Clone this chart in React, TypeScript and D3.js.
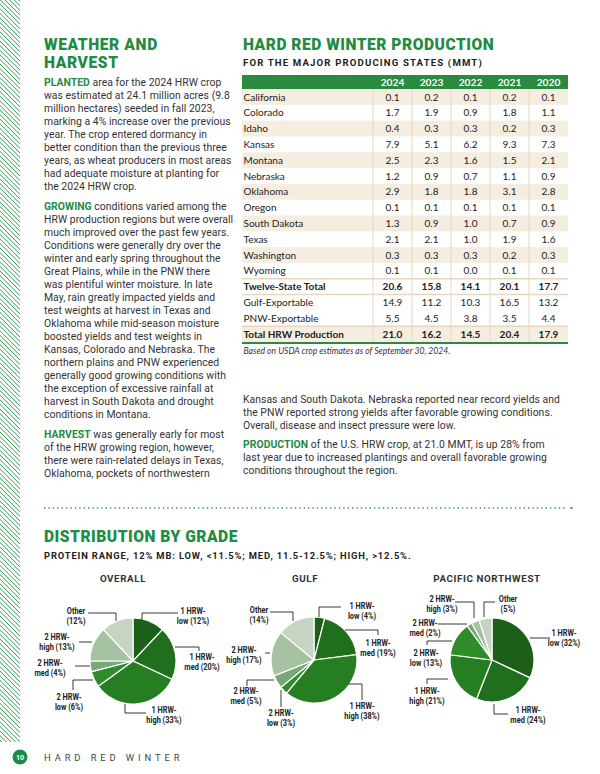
import React from "react";
import * as d3 from "d3";

// ---------- DATA ----------
const tableYears = ["2024", "2023", "2022", "2021", "2020"];
const tableRowNames = [
  "California", "Colorado", "Idaho", "Kansas", "Montana", "Nebraska", "Oklahoma", "Oregon",
  "South Dakota", "Texas", "Washington", "Wyoming", "Twelve-State Total", "Gulf-Exportable",
  "PNW-Exportable", "Total HRW Production",
];
const tableValues = [
  ["0.1", "0.2", "0.1", "0.2", "0.1"],
  ["1.7", "1.9", "0.9", "1.8", "1.1"],
  ["0.4", "0.3", "0.3", "0.2", "0.3"],
  ["7.9", "5.1", "6.2", "9.3", "7.3"],
  ["2.5", "2.3", "1.6", "1.5", "2.1"],
  ["1.2", "0.9", "0.7", "1.1", "0.9"],
  ["2.9", "1.8", "1.8", "3.1", "2.8"],
  ["0.1", "0.1", "0.1", "0.1", "0.1"],
  ["1.3", "0.9", "1.0", "0.7", "0.9"],
  ["2.1", "2.1", "1.0", "1.9", "1.6"],
  ["0.3", "0.3", "0.3", "0.2", "0.3"],
  ["0.1", "0.1", "0.0", "0.1", "0.1"],
  ["20.6", "15.8", "14.1", "20.1", "17.7"],
  ["14.9", "11.2", "10.3", "16.5", "13.2"],
  ["5.5", "4.5", "3.8", "3.5", "4.4"],
  ["21.0", "16.2", "14.5", "20.4", "17.9"],
];
const boldRows = ["Twelve-State Total", "Total HRW Production"];

const gradeLine1 = ["1 HRW-", "1 HRW-", "1 HRW-", "2 HRW-", "2 HRW-", "2 HRW-", "Other"];
const gradeLine2 = ["low", "med", "high", "low", "med", "high", ""];
const overallValues = [12, 20, 33, 6, 4, 13, 12];
const gulfValues = [4, 19, 38, 3, 5, 17, 14];
const pnwValues = [32, 24, 21, 13, 2, 3, 5];
const pieTitles = ["OVERALL", "GULF", "PACIFIC NORTHWEST"];

const leftParas = [
  { lead: "PLANTED", lines: [
    " area for the 2024 HRW crop",
    "was estimated at 24.1 million acres (9.8",
    "million hectares) seeded in fall 2023,",
    "marking a 4% increase over the previous",
    "year. The crop entered dormancy in",
    "better condition than the previous three",
    "years, as wheat producers in most areas",
    "had adequate moisture at planting for",
    "the 2024 HRW crop.",
  ] },
  { lead: "GROWING", lines: [
    " conditions varied among the",
    "HRW production regions but were overall",
    "much improved over the past few years.",
    "Conditions were generally dry over the",
    "winter and early spring throughout the",
    "Great Plains, while in the PNW there",
    "was plentiful winter moisture. In late",
    "May, rain greatly impacted yields and",
    "test weights at harvest in Texas and",
    "Oklahoma while mid-season moisture",
    "boosted yields and test weights in",
    "Kansas, Colorado and Nebraska. The",
    "northern plains and PNW experienced",
    "generally good growing conditions with",
    "the exception of excessive rainfall at",
    "harvest in South Dakota and drought",
    "conditions in Montana.",
  ] },
  { lead: "HARVEST", lines: [
    " was generally early for most",
    "of the HRW growing region, however,",
    "there were rain-related delays in Texas,",
    "Oklahoma, pockets of northwestern",
  ] },
];
const rightParas = [
  { lead: "", lines: [
    "Kansas and South Dakota. Nebraska reported near record yields and",
    "the PNW reported strong yields after favorable growing conditions.",
    "Overall, disease and insect pressure were low.",
  ] },
  { lead: "PRODUCTION", lines: [
    " of the U.S. HRW crop, at 21.0 MMT, is up 28% from",
    "last year due to increased plantings and overall favorable growing",
    "conditions throughout the region.",
  ] },
];

// ---------- LAYOUT / STYLE ----------
const GREEN = "#1f8b43";
const TEXT = "#333333";
const BEIGE = "#f6ede1";
const DIVIDER = "#e7d6c0";
const SANS = "Roboto, sans-serif";
const TABLE_FONT = "Lato, 'Open Sans', sans-serif";
const sliceColors = ["#1b5f18", "#1f6f1c", "#257e22", "#2f8c2b", "#78a875", "#a7c1a3", "#c5d5c2"];

type LL = { t: [number, number]; p: [number, number][] };
const overallLayout: LL[] = [
  { t: [60, -50], p: [[9, -41], [9, -48], [45, -48]] },
  { t: [69, -4], p: [[42, -14], [66, -14], [66, -10]] },
  { t: [31, 49], p: [[-8, 43], [-8, 52], [13, 52]] },
  { t: [-64, 36], p: [[-40, 19], [-60, 19], [-60, 29]] },
  { t: [-83, 2], p: [[-58, 5], [-43, 5]] },
  { t: [-76, -24], p: [[-54, -19], [-41, -19]] },
  { t: [-57, -50], p: [[-45, -48], [-17, -48], [-17, -40]] },
];
const gulfLayout: LL[] = [
  { t: [48, -54], p: [[5, -43], [5, -53], [27, -53]] },
  { t: [64, -17], p: [[31, -30], [64, -30], [64, -25]] },
  { t: [48, 46], p: [[34, 24], [48, 24], [48, 40]] },
  { t: [-33, 53], p: [[-33, 30], [-33, 47]] },
  { t: [-68, 31], p: [[-40, 20], [-67, 20], [-67, 26]] },
  { t: [-70, -10], p: [[-49, -7], [-44, -7]] },
  { t: [-55, -50], p: [[-44, -48], [-21, -48], [-21, -39]] },
];
const pnwLayout: LL[] = [
  { t: [72, -27], p: [[38, -22], [58, -22]] },
  { t: [36, 50], p: [[2, 44], [2, 54], [16, 54]] },
  { t: [-65, 31], p: [[-44, 19], [-65, 19], [-65, 24]] },
  { t: [-66, -7], p: [[-40, -19], [-65, -19], [-65, -15]] },
  { t: [-67, -37], p: [[-54, -36], [-25, -36]] },
  { t: [-50, -61], p: [[-37, -58], [-18, -58], [-18, -42]] },
  { t: [16, -61], p: [[3, -58], [-8, -58], [-8, -43]] },
];

const pies = [
  { title: pieTitles[0], values: overallValues, cx: 133, cy: 661, r: 43, titleX: 123, titleY: 582, layout: overallLayout },
  { title: pieTitles[1], values: gulfValues, cx: 314, cy: 660, r: 43, titleX: 305, titleY: 582, layout: gulfLayout },
  { title: pieTitles[2], values: pnwValues, cx: 492, cy: 660, r: 42, titleX: 487, titleY: 582, layout: pnwLayout },
];

function Paragraphs({ paras, x, y0, lh, gap }: { paras: typeof leftParas; x: number; y0: number; lh: number; gap: number }) {
  let y = y0;
  const out: React.ReactNode[] = [];
  paras.forEach((p, pi) => {
    p.lines.forEach((line, li) => {
      out.push(
        <text key={`${pi}-${li}`} x={x} y={y} fontFamily={SANS} fontSize={10.4} fill={TEXT} letterSpacing={0.04}>
          {li === 0 && p.lead ? <tspan fill={GREEN} fontWeight={700}>{p.lead}</tspan> : null}
          {line}
        </text>
      );
      y += lh;
    });
    y += gap;
  });
  return <g>{out}</g>;
}

function Table() {
  const x0 = 242, x1 = 568, labelEnd = 373;
  const headerTop = 75, headerBottom = 89, bottom = 342;
  const yBand = d3.scaleBand<string>().domain(tableRowNames).range([headerBottom, bottom]);
  const xBand = d3.scaleBand<string>().domain(tableYears).range([labelEnd, x1]);
  const bh = yBand.bandwidth();
  const shaded = (name: string, i: number) => (i < 12 ? i % 2 === 0 : name === "Total HRW Production");
  return (
    <g>
      <rect x={x0} y={headerTop} width={x1 - x0} height={headerBottom - headerTop} fill="#2a8a3f" />
      {tableYears.map((yr) => (
        <text key={yr} x={xBand(yr)! + xBand.bandwidth() / 2} y={(headerTop + headerBottom) / 2} dy="0.36em"
          textAnchor="middle" fontFamily={TABLE_FONT} fontWeight={700} fontSize={10.2} fill="#fff">{yr}</text>
      ))}
      {tableRowNames.map((name, i) => (
        shaded(name, i) ? <rect key={`s${i}`} x={x0} y={yBand(name)!} width={x1 - x0} height={bh} fill={BEIGE} /> : null
      ))}
      <line x1={x0} x2={x1} y1={yBand("Twelve-State Total")!} y2={yBand("Twelve-State Total")!} stroke={DIVIDER} strokeWidth={1.5} />
      <line x1={x0} x2={x1} y1={yBand("Gulf-Exportable")!} y2={yBand("Gulf-Exportable")!} stroke={DIVIDER} strokeWidth={1.5} />
      <line x1={x0} x2={x1} y1={yBand("Total HRW Production")!} y2={yBand("Total HRW Production")!} stroke={DIVIDER} strokeWidth={1.5} />
      {tableYears.map((yr) => (
        <line key={`v${yr}`} x1={xBand(yr)!} x2={xBand(yr)!} y1={headerBottom} y2={bottom} stroke={DIVIDER} strokeWidth={1} />
      ))}
      {tableRowNames.map((name, i) => {
        const bold = boldRows.includes(name);
        const cy = yBand(name)! + bh / 2;
        return (
          <g key={name}>
            <text x={x0 + 1.5} y={cy} dy="0.36em" fontFamily={TABLE_FONT} fontSize={10} fontWeight={bold ? 700 : 400} fill="#222">{name}</text>
            {tableValues[i].map((v, j) => (
              <text key={j} x={xBand(tableYears[j])! + xBand.bandwidth() / 2} y={cy} dy="0.36em" textAnchor="middle"
                fontFamily={TABLE_FONT} fontSize={10} fontWeight={bold ? 700 : 400} fill="#222">{v}</text>
            ))}
          </g>
        );
      })}
      <line x1={x0} x2={x1} y1={bottom + 1} y2={bottom + 1} stroke="#2a8a3f" strokeWidth={2} />
      <text x={x0 + 1.5} y={354} fontFamily={TABLE_FONT} fontStyle="italic" fontSize={8.6} fill="#333">
        Based on USDA crop estimates as of September 30, 2024.
      </text>
    </g>
  );
}

function Pie({ cfg }: { cfg: typeof pies[number] }) {
  const pie = d3.pie<number>().sort(null).value((d) => d);
  const arcs = pie(cfg.values);
  const arc = d3.arc<d3.PieArcDatum<number>>().innerRadius(0).outerRadius(cfg.r);
  const line = d3.line();
  return (
    <g>
      <text x={cfg.titleX} y={cfg.titleY} textAnchor="middle" fontFamily={SANS} fontWeight={700} fontSize={9.8}
        letterSpacing={0.6} fill="#333">{cfg.title}</text>
      <g transform={`translate(${cfg.cx},${cfg.cy})`}>
        {arcs.map((a, i) => (
          <path key={i} d={arc(a)!} fill={sliceColors[i]} stroke="#fff" strokeWidth={1.2} />
        ))}
        {arcs.map((a, i) => {
          const L = cfg.layout[i];
          const l2 = gradeLine2[i] ? `${gradeLine2[i]} (${cfg.values[i]}%)` : `(${cfg.values[i]}%)`;
          return (
            <g key={`l${i}`}>
              <path d={line(L.p)!} fill="none" stroke="#222" strokeWidth={0.9} />
              <g transform={`translate(${L.t[0]},${L.t[1]}) scale(0.8,1)`}>
                <text x={0} y={0} dy="0.36em" textAnchor="middle" fontFamily={SANS} fontWeight={700}
                  fontSize={9.2} fill="#222">
                  <tspan x={0}>{gradeLine1[i]}</tspan>
                  <tspan x={0} dy={9.8}>{l2}</tspan>
                </text>
              </g>
            </g>
          );
        })}
      </g>
    </g>
  );
}

export default function App() {
  const stripeOffsets = d3.range(-30, 760, 4.6);
  return (
    <svg width={600} height={774} viewBox="0 0 600 774"
      style={{ position: "absolute", left: 0, top: 0, background: "#fff" }}>
      <rect width={600} height={774} fill="#fff" />
      <defs>
        <clipPath id="hatchClip"><rect x={0} y={0} width={20} height={742} /></clipPath>
      </defs>
      <g clipPath="url(#hatchClip)">
        {stripeOffsets.map((o) => (
          <line key={o} x1={-2} y1={o} x2={22} y2={o + 24} stroke="#2f9a4c" strokeWidth={1} />
        ))}
      </g>

      {/* left column */}
      <text x={44} y={50} fontFamily={SANS} fontWeight={900} fontSize={15.6} letterSpacing={0.6} fill={GREEN}>WEATHER AND</text>
      <text x={44} y={68} fontFamily={SANS} fontWeight={900} fontSize={15.6} letterSpacing={0.6} fill={GREEN}>HARVEST</text>
      <Paragraphs paras={leftParas} x={44} y0={86} lh={13} gap={7} />

      {/* right column */}
      <text x={243} y={50} fontFamily={SANS} fontWeight={900} fontSize={15.6} letterSpacing={0.5} fill={GREEN}>HARD RED WINTER PRODUCTION</text>
      <text x={243} y={66} fontFamily={SANS} fontWeight={700} fontSize={9.6} letterSpacing={1.15} fill="#222">FOR THE MAJOR PRODUCING STATES (MMT)</text>
      <Table />
      <Paragraphs paras={rightParas} x={243} y0={403} lh={13} gap={6} />

      {/* dotted divider */}
      <line x1={44} x2={566} y1={508} y2={508} stroke="#3a9a55" strokeWidth={1.4} strokeDasharray="1.4 3" />
      <rect x={570.5} y={507} width={2} height={2} fill="#3a9a55" />

      {/* distribution */}
      <text x={44} y={542} fontFamily={SANS} fontWeight={900} fontSize={15.6} letterSpacing={0.5} fill={GREEN}>DISTRIBUTION BY GRADE</text>
      <text x={44} y={559} fontFamily={SANS} fontWeight={700} fontSize={9.4} letterSpacing={0.85} fill="#222">PROTEIN RANGE, 12% MB: LOW, &lt;11.5%; MED, 11.5-12.5%; HIGH, &gt;12.5%.</text>
      {pies.map((p) => <Pie key={p.title} cfg={p} />)}

      {/* footer */}
      <circle cx={20} cy={757} r={7.5} fill={GREEN} />
      <text x={20} y={757} dy="0.36em" textAnchor="middle" fontFamily={SANS} fontWeight={700} fontSize={7} fill="#fff">10</text>
      <text x={44} y={761} fontFamily={SANS} fontSize={9.4} letterSpacing={3.9} fill="#444">HARD RED WINTER</text>
    </svg>
  );
}
